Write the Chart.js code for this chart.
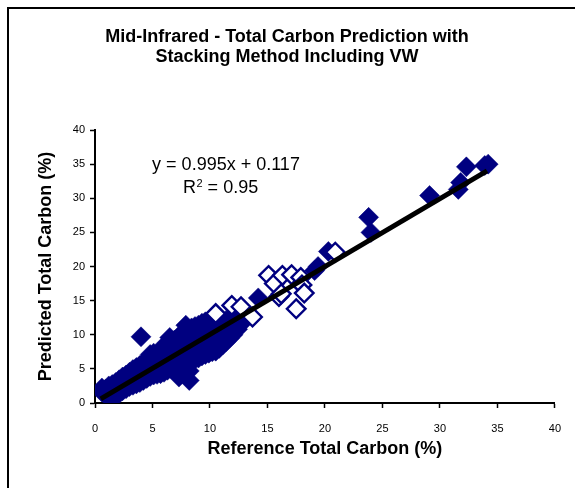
<!DOCTYPE html>
<html>
<head>
<meta charset="utf-8">
<script src="https://cdn.jsdelivr.net/npm/chart.js@4.4.1/dist/chart.umd.min.js"></script>
<style>
  html,body{margin:0;padding:0;background:#fff;overflow:hidden}
  #wrap{position:relative;width:575px;height:488px}
  #frame{position:absolute;left:7px;top:7px;width:600px;height:520px;border:2px solid #000;box-sizing:border-box}
  canvas{position:absolute;left:0;top:0}
</style>
</head>
<body>
<div id="wrap">
  <div id="frame"></div>
  <canvas id="c" width="575" height="488"></canvas>
</div>
<script>
// 축 눈금
const xTicks=[0,5,10,15,20,25,30,35,40];
const yTicks=[0,5,10,15,20,25,30,35,40];

// 채움 마름모 (기준값 x, 예측값 y)
const filledPts=[
  [0.6,1.6],[0.6,2.2],[0.9,1.2],[0.9,2.0],[1.2,0.9],[1.2,1.8],[1.2,2.5],
  [1.5,0.6],[1.5,1.6],[1.5,2.7],[1.8,1.1],[1.8,2.1],[1.8,3.0],
  [2.1,1.4],[2.1,2.5],[2.1,3.4],[2.4,1.8],[2.4,2.8],[2.4,3.8],
  [2.7,2.1],[2.7,3.1],[2.7,4.1],[3.0,2.4],[3.0,3.5],[3.0,4.5],
  [3.3,2.6],[3.3,3.8],[3.3,4.9],[3.6,2.8],[3.6,4.0],[3.6,5.2],
  [3.9,3.0],[3.9,4.3],[3.9,5.5],[4.0,9.7],
  [4.2,3.3],[4.2,4.6],[4.2,5.9],[4.5,3.6],[4.5,4.9],[4.5,6.3],
  [4.8,3.9],[4.8,5.2],[4.8,6.6],[4.8,7.1],[5.1,4.1],[5.1,5.5],[5.1,6.9],[5.1,7.3],
  [5.4,4.2],[5.4,5.7],[5.4,7.2],[5.7,4.3],[5.7,5.9],[5.7,7.5],
  [6.0,4.5],[6.0,6.1],[6.0,7.6],[6.0,8.4],[6.3,4.8],[6.3,6.4],[6.3,7.9],[6.3,8.8],
  [6.5,9.6],[6.6,5.1],[6.6,6.7],[6.6,8.2],[6.9,5.4],[6.9,7.0],[6.9,8.5],[6.9,9.2],
  [7.2,5.6],[7.2,7.3],[7.2,8.8],[7.2,9.6],[7.3,3.8],
  [7.5,5.8],[7.5,7.5],[7.5,9.0],[7.5,10.1],[7.8,5.4],[7.8,7.1],[7.8,8.8],[7.8,10.3],
  [7.6,4.6],[8.2,4.7],[7.9,5.3],[7.9,11.4],[8.1,6.0],[8.1,7.6],[8.1,9.2],[8.1,10.6],[8.2,3.3],
  [8.4,6.2],[8.4,7.9],[8.4,9.6],[8.4,11.0],[8.7,6.4],[8.7,8.1],[8.7,9.9],[8.7,11.2],
  [9.0,6.6],[9.0,8.4],[9.0,10.2],[9.0,11.4],[9.3,6.9],[9.3,8.7],[9.3,10.5],[9.3,11.7],
  [9.6,7.1],[9.6,8.9],[9.6,10.7],[9.6,11.9],[9.9,7.3],[9.9,9.2],[9.9,11.0],[9.9,12.0],
  [10.2,7.5],[10.2,9.4],[10.2,11.2],[10.5,7.6],[10.5,9.6],[10.5,11.5],
  [10.8,8.0],[10.8,9.8],[10.8,11.7],[11.1,8.5],[11.1,10.1],[11.1,11.9],
  [11.4,9.0],[11.4,10.5],[11.4,12.1],[11.7,9.5],[11.7,11.0],[11.7,12.3],
  [12.0,10.0],[12.0,11.4],[12.0,12.5],[12.4,10.8],[12.4,11.9],[12.9,11.9],
  [14.2,15.4],[19.1,19.4],[19.4,20.0],[20.3,22.2],
  [23.8,27.2],[24.0,25.0],[29.1,30.4],[31.6,31.3],[31.8,32.3],
  [32.3,34.6],[33.9,34.8],[34.2,35.0]
];

// 빈 마름모
const openPts=[
  [10.5,13.1],[11.9,14.3],[12.7,14.1],[13.7,12.6],
  [15.1,18.7],[15.6,17.5],[16.3,18.7],[17.1,18.8],[17.9,18.4],
  [18.0,17.3],[18.2,16.1],[16.0,15.6],[16.2,16.0],[17.5,13.8],[20.9,22.1]
];

// 회귀선 끝점
const fitLine=[[0.5,0.6],[34.1,34.0]];

const eqText='y = 0.995x + 0.117';
const r2Text=['R','2',' = 0.95'];
const titleLines=['Mid-Infrared - Total Carbon Prediction with','Stacking Method Including VW'];

const navy='#000080';
const toXY=a=>a.map(p=>({x:p[0],y:p[1]}));

const textPlugin={
  id:'texts',
  afterDraw(chart){
    const c=chart.ctx;
    c.save();
    c.fillStyle='#000';
    c.textAlign='center'; c.textBaseline='alphabetic';
    c.font='bold 18px "Liberation Sans", Arial, sans-serif';
    c.fillText(titleLines[0],287,42);
    c.fillText(titleLines[1],287,62);

    c.font='18px "Liberation Sans", Arial, sans-serif';
    c.fillText(eqText,226,170);
    // R² 줄
    c.textAlign='left';
    let x=183;
    c.fillText(r2Text[0],x,193); x+=c.measureText(r2Text[0]).width;
    c.font='11px "Liberation Sans", Arial, sans-serif';
    c.fillText(r2Text[1],x+0.5,187); x+=c.measureText(r2Text[1]).width+0.5;
    c.font='18px "Liberation Sans", Arial, sans-serif';
    c.fillText(r2Text[2],x,193);
    c.restore();
  }
};

const tickFont={family:'"Liberation Sans", Arial, sans-serif',size:11};
const axisTitleFont={family:'"Liberation Sans", Arial, sans-serif',size:18,weight:'bold'};

new Chart(document.getElementById('c'),{
  type:'scatter',
  data:{datasets:[
    {label:'fit',type:'line',data:toXY(fitLine),borderColor:'#000',borderWidth:5,
     pointRadius:0,fill:false,order:0},
    {label:'open',data:toXY(openPts),pointStyle:'rectRot',pointRadius:9.3,
     pointBackgroundColor:'#fff',pointBorderColor:navy,pointBorderWidth:2.4,order:1},
    {label:'filled',data:toXY(filledPts),pointStyle:'rectRot',pointRadius:10,
     pointBackgroundColor:navy,pointBorderColor:navy,pointBorderWidth:0.5,order:2}
  ]},
  options:{
    responsive:false,animation:false,devicePixelRatio:1,
    layout:{padding:{left:0,top:130,right:18,bottom:0}},
    plugins:{legend:{display:false},tooltip:{enabled:false},title:{display:false}},
    scales:{
      x:{type:'linear',min:0,max:40,
        afterBuildTicks:s=>{s.ticks=xTicks.map(v=>({value:v}));},
        afterFit:s=>{s.height=85;},
        grid:{drawOnChartArea:false,drawTicks:true,tickLength:5,color:'#000',tickWidth:1.5},
        border:{color:'#000',width:2},
        ticks:{color:'#000',font:tickFont,padding:14,maxRotation:0},
        title:{display:true,text:'Reference Total Carbon (%)',color:'#000',font:axisTitleFont,
          padding:{top:0,bottom:28}}
      },
      y:{type:'linear',min:0,max:40,
        afterBuildTicks:s=>{s.ticks=yTicks.map(v=>({value:v}));},
        afterFit:s=>{s.width=95;},
        grid:{drawOnChartArea:false,drawTicks:true,tickLength:5,color:'#000',tickWidth:1.5},
        border:{color:'#000',width:2},
        ticks:{color:'#000',font:tickFont,padding:5},
        title:{display:true,text:'Predicted Total Carbon (%)',color:'#000',font:axisTitleFont,
          padding:{top:35,bottom:0}}
      }
    }
  },
  plugins:[textPlugin]
});
</script>
</body>
</html>
